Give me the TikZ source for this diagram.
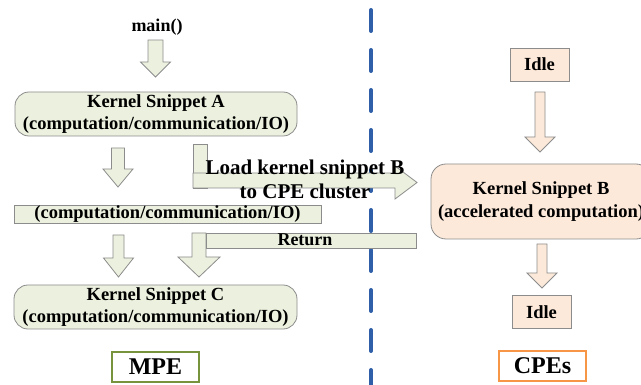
\documentclass[tikz,border=0pt]{standalone}
\usepackage{fontspec}
\setmainfont{Liberation Serif}

\definecolor{mpefill}{RGB}{235,241,222}
\definecolor{cpefill}{RGB}{253,233,217}
\definecolor{edgegray}{RGB}{140,140,140}
\definecolor{mpegreen}{RGB}{119,147,60}
\definecolor{cpeorange}{RGB}{247,150,70}
\definecolor{divblue}{RGB}{46,95,168}

\tikzset{
  mpeshape/.style={draw=edgegray, fill=mpefill, line width=0.8pt},
  cpeshape/.style={draw=edgegray, fill=cpefill, line width=0.8pt},
  boxtext/.style={font=\bfseries\fontsize{18.5}{22.5}\selectfont, align=center, inner sep=0pt},
  kernelbox/.style={boxtext, rounded corners=14pt, minimum width=#1, minimum height=44pt},
  idlebox/.style={cpeshape, boxtext, minimum width=59pt, minimum height=33pt},
  sidelabel/.style={draw=#1, fill=white, line width=1.3pt, font=\bfseries\fontsize{24}{28}\selectfont,
    inner sep=0pt, minimum width=87pt, minimum height=30pt},
}

% block arrow pointing down: style, centre x, top y, head start y, tip y, shaft half width, head half width
\newcommand\downblock[7]{%
  \draw[#1] (#2-#6,#3) -- (#2+#6,#3) -- (#2+#6,#4) -- (#2+#7,#4) -- (#2,#5)
    -- (#2-#7,#4) -- (#2-#6,#4) -- cycle;}

\begin{document}
\begin{tikzpicture}[x=1pt, y=-1pt]
\useasboundingbox (0,0) rectangle (641,385);

% divider between the MPE and the CPE side
\coordinate (divtop) at (371,10);
\coordinate (divbot) at (371,392);
\draw[divblue, line width=4pt, line cap=round, dash pattern=on 21pt off 19pt] (divtop) -- (divbot);

% ---------------- MPE side ----------------
\node[boxtext, font=\bfseries\fontsize{18}{22}\selectfont] (main) at (157,27) {main()};
\downblock{mpeshape}{155.5}{40}{62}{77}{7.5}{15}

\node[mpeshape, kernelbox=282pt] (kA) at (156,114)
  {Kernel Snippet A\\(computation/communication/IO)};

\downblock{mpeshape}{118}{148}{169}{187}{6.5}{15}

% bent arrow that hands snippet B over to the CPE cluster
\draw[mpeshape] (193,144) rectangle (207,188);
\draw[mpeshape] (193,173) -- (395,173) -- (395,166) -- (417,182.5) -- (395,199)
  -- (395,188) -- (193,188) -- cycle;
\node[boxtext, font=\bfseries\fontsize{21}{24}\selectfont] (load) at (305,179.5)
  {Load kernel snippet B\\to CPE cluster};

\node[mpeshape, boxtext, minimum width=307pt, minimum height=18pt] (mid) at (167.5,214)
  {(computation/communication/IO)};

\downblock{mpeshape}{118.5}{235}{258}{277}{5.5}{15}

% bent arrow returning control from the CPE cluster
\downblock{mpeshape}{199}{233}{257}{277}{7}{21}
\draw[mpeshape] (206,233) rectangle (416,248);
\node[boxtext, font=\bfseries\fontsize{18}{22}\selectfont] (ret) at (305,240) {Return};

\node[mpeshape, kernelbox=283pt] (kC) at (155.5,307)
  {Kernel Snippet C\\(computation/communication/IO)};

\node[sidelabel=mpegreen] (mpe) at (155.5,367) {MPE};

% ---------------- CPE side ----------------
\node[idlebox] (idle1) at (539.5,64.5) {Idle};
\downblock{cpeshape}{540}{92}{137}{152}{5}{15}

\node[cpeshape, boxtext, rounded corners=15pt, minimum width=220pt, minimum height=75pt] (kB)
  at (541,201.5) {Kernel Snippet B\\(accelerated computation)};

\downblock{cpeshape}{542}{244}{273}{288}{5}{15}
\node[idlebox] (idle2) at (541.5,312) {Idle};

\node[sidelabel=cpeorange] (cpes) at (542.5,366) {CPEs};
\end{tikzpicture}
\end{document}
